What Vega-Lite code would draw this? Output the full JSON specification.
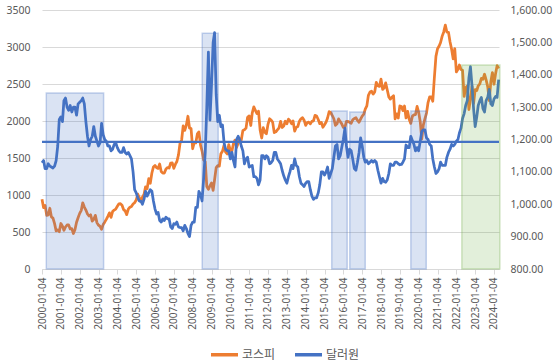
{
"$schema":"https://vega.github.io/schema/vega-lite/v6.json",
"width":457,"height":259,
"autosize":{"type":"none"},
"padding":{"left":42,"top":10,"right":54,"bottom":92},
"config":{"view":{"stroke":null},"font":"Noto Sans"},
"datasets":{
"r":[
{"s":"2000-03-27","e":"2003-04-13","t":2380,"c":"b"},
{"s":"2008-07-07","e":"2009-05-13","t":3185,"c":"b"},
{"s":"2015-05-24","e":"2016-03-19","t":2135,"c":"b"},
{"s":"2016-05-08","e":"2017-03-04","t":2122,"c":"b"},
{"s":"2019-08-05","e":"2020-05-30","t":2135,"c":"b"},
{"s":"2022-04-20","e":"2024-04-27","t":2757,"c":"g"}
],
"m":[
{"d":"2000-01-04","k":943,"u":1128},{"d":"2000-02-04","k":828,"u":1135},{"d":"2000-03-04","k":860,"u":1110},{"d":"2000-04-04","k":725,"u":1110},{"d":"2000-05-04","k":731,"u":1125},{"d":"2000-06-04","k":821,"u":1118},{"d":"2000-07-04","k":705,"u":1115},{"d":"2000-08-04","k":688,"u":1112},{"d":"2000-09-04","k":613,"u":1118},{"d":"2000-10-04","k":514,"u":1135},{"d":"2000-11-04","k":528,"u":1180},{"d":"2000-12-04","k":504,"u":1262},
{"d":"2001-01-04","k":615,"u":1270},{"d":"2001-02-04","k":577,"u":1255},{"d":"2001-03-04","k":523,"u":1320},{"d":"2001-04-04","k":568,"u":1328},{"d":"2001-05-04","k":595,"u":1300},{"d":"2001-06-04","k":595,"u":1290},{"d":"2001-07-04","k":541,"u":1305},{"d":"2001-08-04","k":545,"u":1285},{"d":"2001-09-04","k":479,"u":1300},{"d":"2001-10-04","k":530,"u":1300},{"d":"2001-11-04","k":631,"u":1275},{"d":"2001-12-04","k":693,"u":1310},
{"d":"2002-01-04","k":752,"u":1315},{"d":"2002-02-04","k":793,"u":1320},{"d":"2002-03-04","k":894,"u":1328},{"d":"2002-04-04","k":837,"u":1310},{"d":"2002-05-04","k":796,"u":1255},{"d":"2002-06-04","k":743,"u":1210},{"d":"2002-07-04","k":716,"u":1180},{"d":"2002-08-04","k":733,"u":1200},{"d":"2002-09-04","k":646,"u":1210},{"d":"2002-10-04","k":671,"u":1240},{"d":"2002-11-04","k":725,"u":1210},{"d":"2002-12-04","k":627,"u":1195},
{"d":"2003-01-04","k":592,"u":1180},{"d":"2003-02-04","k":575,"u":1190},{"d":"2003-03-04","k":536,"u":1250},{"d":"2003-04-04","k":600,"u":1215},{"d":"2003-05-04","k":633,"u":1200},{"d":"2003-06-04","k":670,"u":1195},{"d":"2003-07-04","k":712,"u":1180},{"d":"2003-08-04","k":759,"u":1180},{"d":"2003-09-04","k":698,"u":1165},{"d":"2003-10-04","k":776,"u":1170},{"d":"2003-11-04","k":796,"u":1185},{"d":"2003-12-04","k":810,"u":1190},
{"d":"2004-01-04","k":848,"u":1175},{"d":"2004-02-04","k":880,"u":1165},{"d":"2004-03-04","k":883,"u":1160},{"d":"2004-04-04","k":862,"u":1160},{"d":"2004-05-04","k":803,"u":1175},{"d":"2004-06-04","k":785,"u":1160},{"d":"2004-07-04","k":735,"u":1155},{"d":"2004-08-04","k":809,"u":1160},{"d":"2004-09-04","k":835,"u":1150},{"d":"2004-10-04","k":845,"u":1140},{"d":"2004-11-04","k":878,"u":1100},{"d":"2004-12-04","k":896,"u":1045},
{"d":"2005-01-04","k":932,"u":1035},{"d":"2005-02-04","k":1011,"u":1020},{"d":"2005-03-04","k":966,"u":1010},{"d":"2005-04-04","k":912,"u":1010},{"d":"2005-05-04","k":970,"u":1000},{"d":"2005-06-04","k":1008,"u":1015},{"d":"2005-07-04","k":1111,"u":1040},{"d":"2005-08-04","k":1084,"u":1025},{"d":"2005-09-04","k":1221,"u":1035},{"d":"2005-10-04","k":1159,"u":1045},{"d":"2005-11-04","k":1297,"u":1040},{"d":"2005-12-04","k":1379,"u":1010},
{"d":"2006-01-04","k":1400,"u":985},{"d":"2006-02-04","k":1367,"u":970},{"d":"2006-03-04","k":1359,"u":975},{"d":"2006-04-04","k":1419,"u":950},{"d":"2006-05-04","k":1318,"u":945},{"d":"2006-06-04","k":1295,"u":955},{"d":"2006-07-04","k":1297,"u":950},{"d":"2006-08-04","k":1352,"u":960},{"d":"2006-09-04","k":1371,"u":955},{"d":"2006-10-04","k":1364,"u":955},{"d":"2006-11-04","k":1432,"u":930},{"d":"2006-12-04","k":1434,"u":925},
{"d":"2007-01-04","k":1360,"u":940},{"d":"2007-02-04","k":1417,"u":938},{"d":"2007-03-04","k":1453,"u":945},{"d":"2007-04-04","k":1543,"u":930},{"d":"2007-05-04","k":1700,"u":928},{"d":"2007-06-04","k":1743,"u":928},{"d":"2007-07-04","k":1933,"u":918},{"d":"2007-08-04","k":1873,"u":935},{"d":"2007-09-04","k":1946,"u":925},{"d":"2007-10-04","k":2064,"u":910},{"d":"2007-11-04","k":1906,"u":900},{"d":"2007-12-04","k":1897,"u":935},
{"d":"2008-01-04","k":1625,"u":945},{"d":"2008-02-04","k":1712,"u":945},{"d":"2008-03-04","k":1704,"u":990},{"d":"2008-04-04","k":1825,"u":990},{"d":"2008-05-04","k":1852,"u":1040},{"d":"2008-06-04","k":1674,"u":1030},{"d":"2008-07-04","k":1594,"u":1010},{"d":"2008-08-04","k":1474,"u":1080},{"d":"2008-09-04","k":1448,"u":1160},{"d":"2008-10-04","k":1113,"u":1300},{"d":"2008-11-04","k":1076,"u":1470},{"d":"2008-12-04","k":1124,"u":1260},
{"d":"2009-01-04","k":1162,"u":1370},{"d":"2009-02-04","k":1063,"u":1500},{"d":"2009-03-04","k":1206,"u":1530},{"d":"2009-04-04","k":1369,"u":1340},{"d":"2009-05-04","k":1396,"u":1255},{"d":"2009-06-04","k":1390,"u":1275},{"d":"2009-07-04","k":1557,"u":1240},{"d":"2009-08-04","k":1591,"u":1245},{"d":"2009-09-04","k":1673,"u":1190},{"d":"2009-10-04","k":1580,"u":1170},{"d":"2009-11-04","k":1555,"u":1165},{"d":"2009-12-04","k":1682,"u":1165},
{"d":"2010-01-04","k":1602,"u":1140},{"d":"2010-02-04","k":1594,"u":1160},{"d":"2010-03-04","k":1692,"u":1135},{"d":"2010-04-04","k":1741,"u":1115},{"d":"2010-05-04","k":1641,"u":1200},{"d":"2010-06-04","k":1698,"u":1210},{"d":"2010-07-04","k":1759,"u":1200},{"d":"2010-08-04","k":1742,"u":1180},{"d":"2010-09-04","k":1873,"u":1165},{"d":"2010-10-04","k":1882,"u":1125},{"d":"2010-11-04","k":1904,"u":1140},{"d":"2010-12-04","k":2051,"u":1145},
{"d":"2011-01-04","k":2069,"u":1115},{"d":"2011-02-04","k":1939,"u":1118},{"d":"2011-03-04","k":2106,"u":1120},{"d":"2011-04-04","k":2192,"u":1085},{"d":"2011-05-04","k":2142,"u":1085},{"d":"2011-06-04","k":2100,"u":1080},{"d":"2011-07-04","k":2133,"u":1060},{"d":"2011-08-04","k":1880,"u":1075},{"d":"2011-09-04","k":1770,"u":1150},{"d":"2011-10-04","k":1909,"u":1150},{"d":"2011-11-04","k":1847,"u":1140},{"d":"2011-12-04","k":1826,"u":1150},
{"d":"2012-01-04","k":1955,"u":1145},{"d":"2012-02-04","k":2030,"u":1125},{"d":"2012-03-04","k":2014,"u":1128},{"d":"2012-04-04","k":1982,"u":1135},{"d":"2012-05-04","k":1843,"u":1160},{"d":"2012-06-04","k":1854,"u":1160},{"d":"2012-07-04","k":1881,"u":1140},{"d":"2012-08-04","k":1905,"u":1133},{"d":"2012-09-04","k":1996,"u":1125},{"d":"2012-10-04","k":1912,"u":1105},{"d":"2012-11-04","k":1933,"u":1088},{"d":"2012-12-04","k":1997,"u":1075},
{"d":"2013-01-04","k":1962,"u":1065},{"d":"2013-02-04","k":2026,"u":1085},{"d":"2013-03-04","k":2005,"u":1100},{"d":"2013-04-04","k":1963,"u":1120},{"d":"2013-05-04","k":2001,"u":1110},{"d":"2013-06-04","k":1863,"u":1140},{"d":"2013-07-04","k":1914,"u":1120},{"d":"2013-08-04","k":1926,"u":1115},{"d":"2013-09-04","k":1997,"u":1085},{"d":"2013-10-04","k":2030,"u":1065},{"d":"2013-11-04","k":2045,"u":1060},{"d":"2013-12-04","k":2011,"u":1055},
{"d":"2014-01-04","k":1941,"u":1065},{"d":"2014-02-04","k":1980,"u":1070},{"d":"2014-03-04","k":1986,"u":1070},{"d":"2014-04-04","k":1961,"u":1045},{"d":"2014-05-04","k":1995,"u":1025},{"d":"2014-06-04","k":2002,"u":1015},{"d":"2014-07-04","k":2076,"u":1020},{"d":"2014-08-04","k":2068,"u":1020},{"d":"2014-09-04","k":2020,"u":1035},{"d":"2014-10-04","k":1964,"u":1060},{"d":"2014-11-04","k":1981,"u":1100},{"d":"2014-12-04","k":1916,"u":1100},
{"d":"2015-01-04","k":1949,"u":1090},{"d":"2015-02-04","k":1986,"u":1100},{"d":"2015-03-04","k":2041,"u":1115},{"d":"2015-04-04","k":2127,"u":1080},{"d":"2015-05-04","k":2115,"u":1095},{"d":"2015-06-04","k":2074,"u":1110},{"d":"2015-07-04","k":2030,"u":1145},{"d":"2015-08-04","k":1941,"u":1180},{"d":"2015-09-04","k":1963,"u":1185},{"d":"2015-10-04","k":2029,"u":1140},{"d":"2015-11-04","k":1992,"u":1150},{"d":"2015-12-04","k":1961,"u":1175},
{"d":"2016-01-04","k":1912,"u":1200},{"d":"2016-02-04","k":1917,"u":1235},{"d":"2016-03-04","k":1996,"u":1180},{"d":"2016-04-04","k":1994,"u":1145},{"d":"2016-05-04","k":1983,"u":1170},{"d":"2016-06-04","k":1970,"u":1165},{"d":"2016-07-04","k":2016,"u":1140},{"d":"2016-08-04","k":2035,"u":1110},{"d":"2016-09-04","k":2044,"u":1105},{"d":"2016-10-04","k":2008,"u":1130},{"d":"2016-11-04","k":1983,"u":1160},{"d":"2016-12-04","k":2026,"u":1205},
{"d":"2017-01-04","k":2067,"u":1180},{"d":"2017-02-04","k":2092,"u":1145},{"d":"2017-03-04","k":2160,"u":1130},{"d":"2017-04-04","k":2205,"u":1135},{"d":"2017-05-04","k":2347,"u":1125},{"d":"2017-06-04","k":2392,"u":1130},{"d":"2017-07-04","k":2402,"u":1135},{"d":"2017-08-04","k":2363,"u":1130},{"d":"2017-09-04","k":2394,"u":1135},{"d":"2017-10-04","k":2523,"u":1130},{"d":"2017-11-04","k":2476,"u":1105},{"d":"2017-12-04","k":2467,"u":1085},
{"d":"2018-01-04","k":2566,"u":1065},{"d":"2018-02-04","k":2427,"u":1080},{"d":"2018-03-04","k":2445,"u":1070},{"d":"2018-04-04","k":2515,"u":1068},{"d":"2018-05-04","k":2423,"u":1075},{"d":"2018-06-04","k":2326,"u":1095},{"d":"2018-07-04","k":2295,"u":1125},{"d":"2018-08-04","k":2322,"u":1120},{"d":"2018-09-04","k":2343,"u":1120},{"d":"2018-10-04","k":2029,"u":1130},{"d":"2018-11-04","k":2096,"u":1130},{"d":"2018-12-04","k":2041,"u":1125},
{"d":"2019-01-04","k":2204,"u":1122},{"d":"2019-02-04","k":2195,"u":1123},{"d":"2019-03-04","k":2140,"u":1130},{"d":"2019-04-04","k":2203,"u":1140},{"d":"2019-05-04","k":2041,"u":1183},{"d":"2019-06-04","k":2130,"u":1175},{"d":"2019-07-04","k":2024,"u":1175},{"d":"2019-08-04","k":1967,"u":1210},{"d":"2019-09-04","k":2063,"u":1197},{"d":"2019-10-04","k":2083,"u":1185},{"d":"2019-11-04","k":2087,"u":1165},{"d":"2019-12-04","k":2197,"u":1175},
{"d":"2020-01-04","k":2119,"u":1165},{"d":"2020-02-04","k":1987,"u":1195},{"d":"2020-03-04","k":1754,"u":1225},{"d":"2020-04-04","k":1947,"u":1230},{"d":"2020-05-04","k":2030,"u":1230},{"d":"2020-06-04","k":2108,"u":1205},{"d":"2020-07-04","k":2249,"u":1200},{"d":"2020-08-04","k":2326,"u":1185},{"d":"2020-09-04","k":2327,"u":1180},{"d":"2020-10-04","k":2267,"u":1140},{"d":"2020-11-04","k":2591,"u":1115},{"d":"2020-12-04","k":2873,"u":1095},
{"d":"2021-01-04","k":2976,"u":1100},{"d":"2021-02-04","k":3013,"u":1110},{"d":"2021-03-04","k":3061,"u":1130},{"d":"2021-04-04","k":3147,"u":1120},{"d":"2021-05-04","k":3204,"u":1120},{"d":"2021-06-04","k":3296,"u":1120},{"d":"2021-07-04","k":3202,"u":1145},{"d":"2021-08-04","k":3199,"u":1160},{"d":"2021-09-04","k":3068,"u":1170},{"d":"2021-10-04","k":2970,"u":1185},{"d":"2021-11-04","k":2839,"u":1180},{"d":"2021-12-04","k":2977,"u":1185},
{"d":"2022-01-04","k":2663,"u":1195},{"d":"2022-02-04","k":2699,"u":1200},{"d":"2022-03-04","k":2757,"u":1220},{"d":"2022-04-04","k":2695,"u":1235},{"d":"2022-05-04","k":2685,"u":1265},{"d":"2022-06-04","k":2332,"u":1280},{"d":"2022-07-04","k":2451,"u":1305},{"d":"2022-08-04","k":2472,"u":1320},{"d":"2022-09-04","k":2155,"u":1390},{"d":"2022-10-04","k":2293,"u":1425},{"d":"2022-11-04","k":2472,"u":1365},{"d":"2022-12-04","k":2236,"u":1295},
{"d":"2023-01-04","k":2425,"u":1240},{"d":"2023-02-04","k":2412,"u":1270},{"d":"2023-03-04","k":2476,"u":1305},{"d":"2023-04-04","k":2501,"u":1320},{"d":"2023-05-04","k":2577,"u":1330},{"d":"2023-06-04","k":2564,"u":1295},{"d":"2023-07-04","k":2632,"u":1285},{"d":"2023-08-04","k":2556,"u":1320},{"d":"2023-09-04","k":2465,"u":1330},{"d":"2023-10-04","k":2277,"u":1355},{"d":"2023-11-04","k":2535,"u":1310},{"d":"2023-12-04","k":2655,"u":1305},
{"d":"2024-01-04","k":2497,"u":1325},{"d":"2024-02-04","k":2642,"u":1333},{"d":"2024-03-04","k":2747,"u":1330},{"d":"2024-04-04","k":2710,"u":1385}
]},
"layer":[
{"data":{"name":"m"},
 "mark":{"type":"line","strokeWidth":2.75,"strokeJoin":"round"},
 "encoding":{
  "x":{"field":"d","type":"temporal",
   "scale":{"type":"utc","domain":[946944000000,1712707200000]},
   "axis":{"title":null,"labelExpr":"utcFormat(datum.value, '%Y-%m-%d')","labelAngle":-90,"labelOverlap":false,"labelFlush":false,"grid":false,"tickCount":25,
    "values":[946944000000,978566400000,1010102400000,1041638400000,1073174400000,1104796800000,1136332800000,1167868800000,1199404800000,1231027200000,1262563200000,1294099200000,1325635200000,1357257600000,1388793600000,1420329600000,1451865600000,1483488000000,1515024000000,1546560000000,1578096000000,1609718400000,1641254400000,1672790400000,1704326400000],
    "domainColor":"#d9d9d9","tickColor":"#d9d9d9","tickSize":5,"labelPadding":3,"labelColor":"#595959","labelFontSize":10,"labelFont":"Noto Sans"}},
  "y":{"field":"k","type":"quantitative","scale":{"domain":[0,3500],"nice":false,"zero":false},
   "axis":{"orient":"left","title":null,"format":"d","values":[0,500,1000,1500,2000,2500,3000,3500],"grid":true,"gridColor":"#d9d9d9","domain":false,"ticks":false,"labelPadding":12,"labelColor":"#595959","labelFontSize":10.5,"labelFont":"Noto Sans"}},
  "color":{"datum":"코스피","scale":{"domain":["코스피","달러원"],"range":["#ED7D31","#4472C4"]},
   "legend":{"title":null,"orient":"none","legendX":167,"legendY":329,"direction":"horizontal","symbolType":"stroke","symbolSize":729,"symbolStrokeWidth":3.5,"labelFont":"Noto Sans CJK KR","labelFontSize":12,"labelColor":"#595959","labelOffset":2,"labelLimit":0,"columnPadding":12,"padding":0}}
 }},
{"data":{"name":"m"},
 "mark":{"type":"line","strokeWidth":2.75,"strokeJoin":"round"},
 "encoding":{
  "x":{"field":"d","type":"temporal",
   "axis":{"title":null,"labelExpr":"utcFormat(datum.value, '%Y-%m-%d')","labelAngle":-90,"labelOverlap":false,"labelFlush":false,"grid":false,"tickCount":25,
    "values":[946944000000,978566400000,1010102400000,1041638400000,1073174400000,1104796800000,1136332800000,1167868800000,1199404800000,1231027200000,1262563200000,1294099200000,1325635200000,1357257600000,1388793600000,1420329600000,1451865600000,1483488000000,1515024000000,1546560000000,1578096000000,1609718400000,1641254400000,1672790400000,1704326400000],
    "domainColor":"#d9d9d9","tickColor":"#d9d9d9","tickSize":5,"labelPadding":3,"labelColor":"#595959","labelFontSize":10,"labelFont":"Noto Sans"}},
  "y":{"field":"u","type":"quantitative","scale":{"domain":[800,1600],"nice":false,"zero":false},
   "axis":{"orient":"right","title":null,"values":[800,900,1000,1100,1200,1300,1400,1500,1600],"format":",.2f","grid":false,"domain":false,"ticks":false,"labelPadding":11,"labelColor":"#595959","labelFontSize":10.5,"labelFont":"Noto Sans"}},
  "color":{"datum":"달러원"}
 }},
{"data":{"name":"r"},
 "mark":{"type":"rect","fillOpacity":0.2,"strokeWidth":1.5,"strokeOpacity":0.3},
 "encoding":{
  "x":{"field":"s","type":"temporal"},
  "x2":{"field":"e"},
  "y":{"field":"t","type":"quantitative","scale":{"domain":[0,3500],"nice":false,"zero":false},"axis":null},
  "y2":{"datum":0},
  "fill":{"field":"c","type":"nominal","scale":{"domain":["b","g"],"range":["#4472C4","#70AD47"]},"legend":null},
  "stroke":{"field":"c","type":"nominal","scale":{"domain":["b","g"],"range":["#4472C4","#70AD47"]},"legend":null}
 }},
{"data":{"values":[{}]},
 "mark":{"type":"rule","color":"#4472C4","strokeWidth":2.25},
 "encoding":{
  "y":{"datum":1193,"type":"quantitative","scale":{"domain":[800,1600],"nice":false,"zero":false},"axis":null}
 }}
],
"resolve":{"scale":{"y":"independent"}}
}
